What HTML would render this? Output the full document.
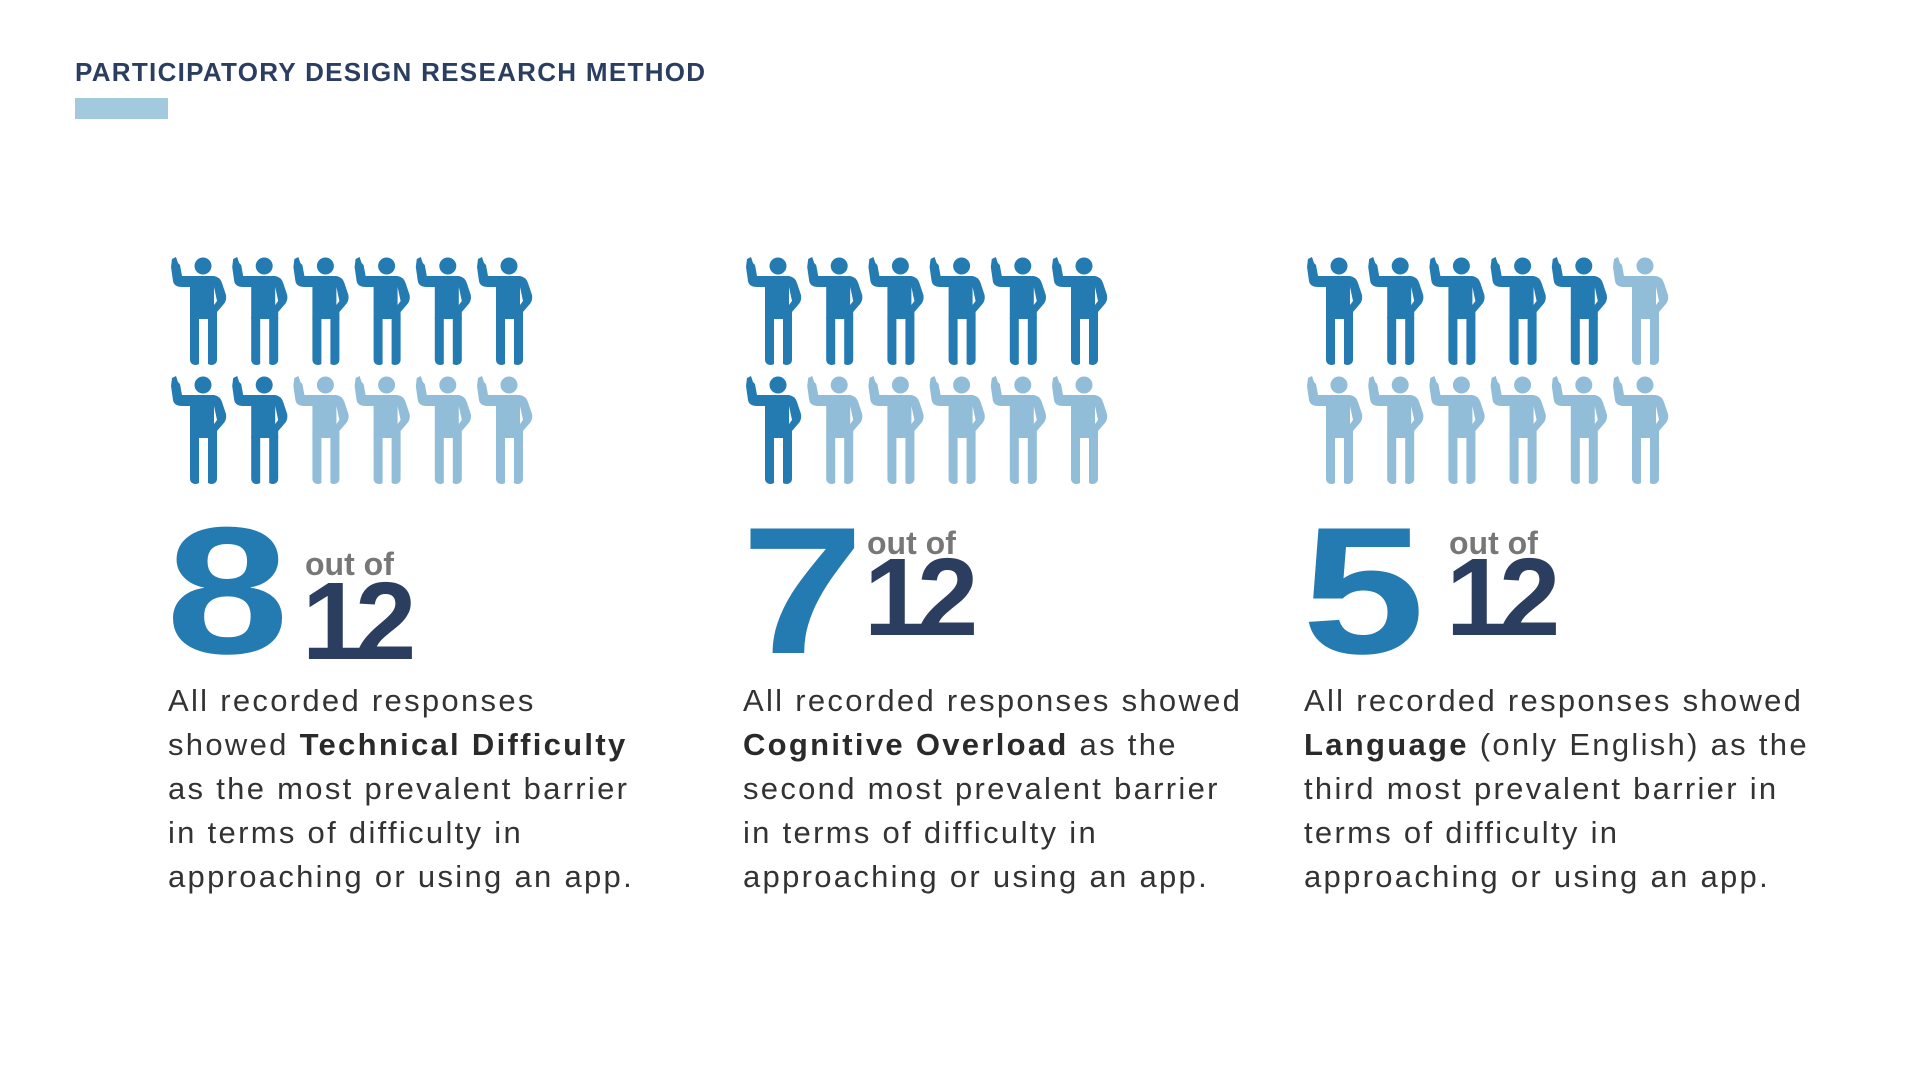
<!DOCTYPE html>
<html><head><meta charset="utf-8">
<style>
body{margin:0;width:1920px;height:1080px;background:#fff;position:relative;overflow:hidden;font-family:"Liberation Sans",sans-serif}
#title{position:absolute;left:75px;top:57px;font-size:26px;font-weight:bold;color:#2c3e5f;letter-spacing:1.3px;white-space:nowrap}
#bar{position:absolute;left:75px;top:98px;width:93px;height:21px;background:#a3c9df}
.big{position:absolute;font-weight:bold;color:#247bb1;font-size:181px;line-height:1;transform:scaleX(1.22);transform-origin:left top}
.outof{position:absolute;font-weight:bold;color:#777;font-size:32px;line-height:1;white-space:nowrap}
.twelve{position:absolute;font-weight:bold;color:#2c3e5f;font-size:110px;line-height:1;letter-spacing:-8px}
.desc{position:absolute;font-size:31px;line-height:44px;color:#333;white-space:nowrap;letter-spacing:2.3px}
.desc b{color:#2a2a2a}
svg.icons{position:absolute;left:0;top:0}
</style></head><body>
<div id="title">PARTICIPATORY DESIGN RESEARCH METHOD</div>
<div id="bar"></div>
<svg class="icons" id="icons" width="1920" height="1080"></svg>

<div class="desc" style="left:168px;top:679px">All recorded responses<br>showed <b>Technical Difficulty</b><br>as the most prevalent barrier<br>in terms of difficulty in<br>approaching or using an app.</div>
<div class="desc" style="left:743px;top:679px">All recorded responses showed<br><b>Cognitive Overload</b> as the<br>second most prevalent barrier<br>in terms of difficulty in<br>approaching or using an app.</div>
<div class="desc" style="left:1304px;top:679px">All recorded responses showed<br><b>Language</b> (only English) as the<br>third most prevalent barrier in<br>terms of difficulty in<br>approaching or using an app.</div>

<script>
const categories = ["Technical Difficulty","Cognitive Overload","Language"];
const counts = [8, 7, 5];
const totals = [12, 12, 12];

const groupX = [168, 743, 1304];
const labelOffset = [137, 124, 145];
const bigTop = [501, 501, 501];
const outTop = [548, 527, 527];
const twelveTop = [567, 543, 543];
const DARK = "#247bb1", LIGHT = "#91bdd8";
const NS = "http://www.w3.org/2000/svg";
const svg = document.getElementById('icons');

function person(x, y, color) {
  const g = document.createElementNS(NS, 'g');
  g.setAttribute('transform', `translate(${x},${y})`);
  g.setAttribute('fill', color);
  g.innerHTML =
    '<circle cx="35" cy="9" r="8.5"/>' +
    '<path d="M4 2 L8 0 L10 6 L12 8 L14 19 L24 19 L46 19 Q52 20 54 26 L58 38 Q59 44 55 48 L49 55 L49 62 L22 62 L22 30 L14 30 Q6 30 5 24 L3 10 Z"/>' +
    '<path d="M46 30 L49 44 L46 48 Z" fill="#fff"/>' +
    '<rect x="22" y="56" width="11" height="52" rx="5"/>' +
    '<rect x="38" y="56" width="11" height="52" rx="5"/>' +
    '<rect x="31" y="62" width="9" height="46" fill="#fff"/>';
  return g;
}

counts.forEach((c, gi) => {
  const grp = document.createElementNS(NS, 'g');
  
  
  for (let i = 0; i < totals[gi]; i++) {
    const col = i % 6, row = Math.floor(i / 6);
    const p = person(groupX[gi] + col * 61.2, 257 + row * 119, i < c ? DARK : LIGHT);
    
    
    grp.appendChild(p);
  }
  svg.appendChild(grp);

  const big = document.createElement('div');
  big.className = 'big';
  big.textContent = c;
  big.style.left = (groupX[gi] - 2) + 'px';
  big.style.top = bigTop[gi] + 'px';
  
  
  document.body.appendChild(big);

  const out = document.createElement('div');
  out.className = 'outof';
  out.textContent = 'out of';
  out.style.left = (groupX[gi] + labelOffset[gi]) + 'px';
  out.style.top = outTop[gi] + 'px';
  
  
  document.body.appendChild(out);

  const tw = document.createElement('div');
  tw.className = 'twelve';
  tw.textContent = totals[gi];
  tw.style.left = (groupX[gi] + labelOffset[gi] - 3) + 'px';
  tw.style.top = twelveTop[gi] + 'px';
  
  
  document.body.appendChild(tw);
});
</script>
</body></html>
